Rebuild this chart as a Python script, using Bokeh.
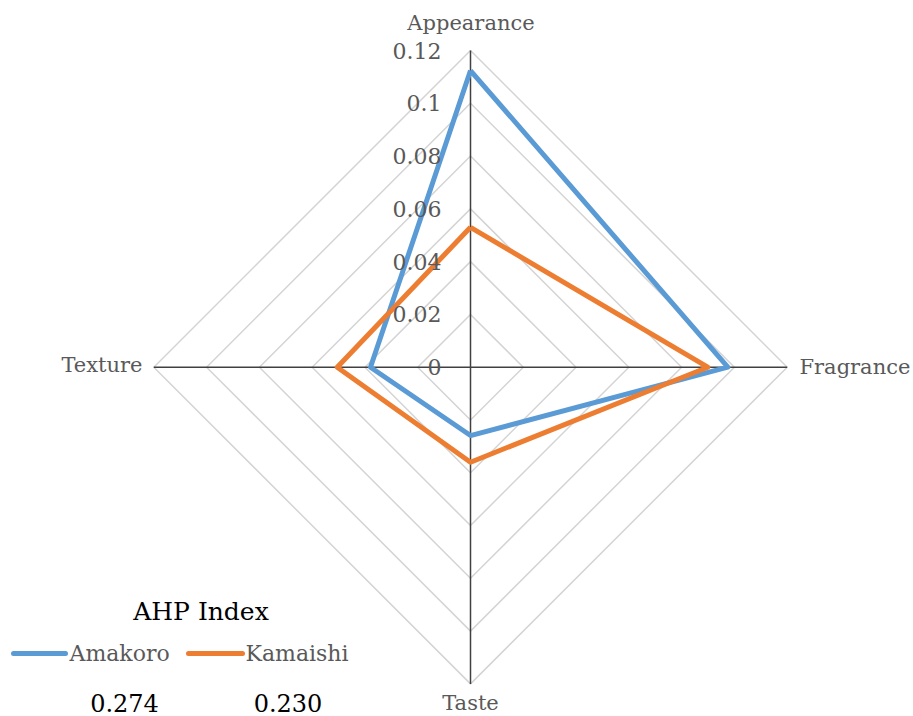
import numpy as np
from bokeh.plotting import figure
from bokeh.models import Range1d
from bokeh.embed import file_html
from bokeh.resources import INLINE
from bokeh.core.properties import value

# ---- data ----
categories = ["Appearance", "Fragrance", "Taste", "Texture"]
series_names = ["Amakoro", "Kamaishi"]
amakoro = [0.1124, 0.0975, 0.0259, 0.0379]
kamaishi = [0.0530, 0.0899, 0.0360, 0.0505]
ahp_index = ["0.274", "0.230"]
ticks = [0, 0.02, 0.04, 0.06, 0.08, 0.1, 0.12]
tick_labels = ["0", "0.02", "0.04", "0.06", "0.08", "0.1", "0.12"]
colors = ["#5B9BD5", "#ED7D31"]

W, H = 913, 716
CX, CY = 470.0, 366.7      # pixel centre of the radar
SCALE = 316.7 / 0.12       # pixels per unit

def px(x, y):
    """pixel position -> data coordinates"""
    return (x - CX) / SCALE, (CY - y) / SCALE

x0, y_top = px(0, 0)
x1, y_bot = px(W, H)

p = figure(width=W, height=H, output_backend="svg", toolbar_location=None,
           x_range=Range1d(x0, x1), y_range=Range1d(y_bot, y_top),
           min_border=0, outline_line_color=None)
p.axis.visible = False
p.grid.visible = False
p.background_fill_color = "white"
p.border_fill_color = "white"

angles = np.array([90, 0, -90, 180]) * np.pi / 180.0
FONT = value("DejaVu Serif")

# grid rings
for t in ticks[1:]:
    xs = list(t * np.cos(angles)) + [t * np.cos(angles[0])]
    ys = list(t * np.sin(angles)) + [t * np.sin(angles[0])]
    p.line(xs, ys, line_color="#d4d4d4", line_width=1.5)

# spokes
rmax = ticks[-1]
for a in angles:
    p.line([0, rmax * np.cos(a)], [0, rmax * np.sin(a)], line_color="#404040", line_width=1.5)

# series
for vals, c in zip([amakoro, kamaishi], colors):
    v = np.array(vals)
    xs = list(v * np.cos(angles)) + [v[0] * np.cos(angles[0])]
    ys = list(v * np.sin(angles)) + [v[0] * np.sin(angles[0])]
    p.line(xs, ys, line_color=c, line_width=5, line_join="round")

# tick labels
tx, _ = px(441, 0)
p.text(x=[tx] * len(ticks), y=ticks, text=tick_labels, text_align="right",
       text_baseline="middle", text_font=FONT, text_font_size="22px", text_color="#595959")

# category labels
ax, ay = px(470.5, 22.7)
fx, fy = px(799, 366.7)
sx, sy = px(470, 702)
ex, ey = px(142, 364)
for (x, y, t, al) in [(ax, ay, categories[0], "center"), (fx, fy, categories[1], "left"),
                      (sx, sy, categories[2], "center"), (ex, ey, categories[3], "right")]:
    p.text(x=[x], y=[y], text=[t], text_align=al, text_baseline="middle",
           text_font=FONT, text_font_size="21px", text_color="#595959")

# legend block
tx_, ty_ = px(200.5, 611)
p.text(x=[tx_], y=[ty_], text=["AHP Index"], text_align="center", text_baseline="middle",
       text_font=FONT, text_font_size="25px", text_color="#000000")

leg_line_px = [(13, 65), (188, 242)]
leg_text_px = [69, 245]
val_px = [124, 287.5]
for i, name in enumerate(series_names):
    (a, b) = leg_line_px[i]
    la, ly = px(a, 653)
    lb, _ = px(b, 653)
    p.line([la, lb], [ly, ly], line_color=colors[i], line_width=5, line_cap="round")
    lx, _ = px(leg_text_px[i], 653)
    p.text(x=[lx], y=[ly], text=[name], text_align="left", text_baseline="middle",
           text_font=FONT, text_font_size="22px", text_color="#595959")
    vx, vy = px(val_px[i], 702)
    p.text(x=[vx], y=[vy], text=[ahp_index[i]], text_align="center", text_baseline="middle",
           text_font=FONT, text_font_size="24px", text_color="#000000")

open("out.html", "w").write(file_html(p, INLINE))
